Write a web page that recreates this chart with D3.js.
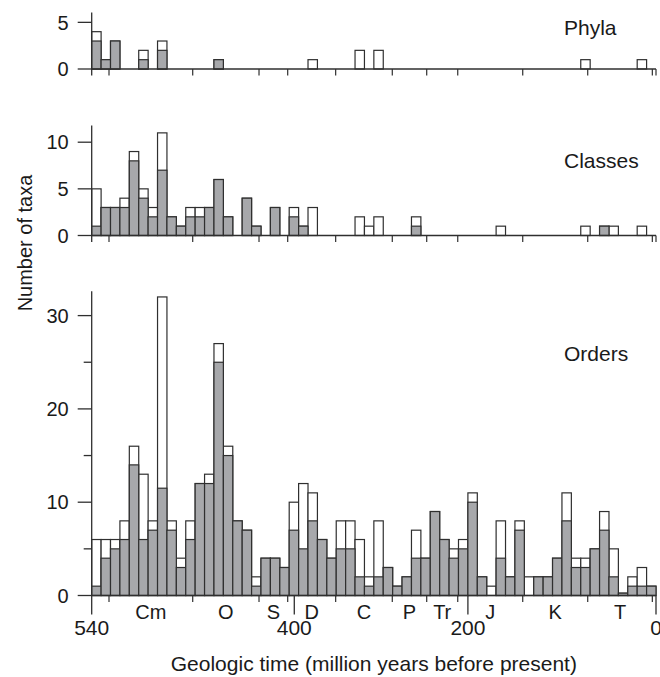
<!DOCTYPE html>
<html>
<head>
<meta charset="utf-8">
<script src="https://cdn.jsdelivr.net/npm/d3@7"></script>
<style>
    body { margin: 0; background: #fff; }
    svg { display: block; }
    text { font-family: "Liberation Sans", Arial, sans-serif; fill: #1a1a1a; }
</style>
</head>
<body>
<div id="chart"></div>
<script>
// 60 equal-width time bins, oldest (540 Ma) on the left
const phylaTotal = [
    4, 1, 3, 0, 0, 2, 0, 3, 0, 0,
    0, 0, 0, 1, 0, 0, 0, 0, 0, 0,
    0, 0, 0, 1, 0, 0, 0, 0, 2, 0,
    2, 0, 0, 0, 0, 0, 0, 0, 0, 0,
    0, 0, 0, 0, 0, 0, 0, 0, 0, 0,
    0, 0, 1, 0, 0, 0, 0, 0, 1, 0
];
const phylaGray = [
    3, 1, 3, 0, 0, 1, 0, 2, 0, 0,
    0, 0, 0, 1, 0, 0, 0, 0, 0, 0,
    0, 0, 0, 0, 0, 0, 0, 0, 0, 0,
    0, 0, 0, 0, 0, 0, 0, 0, 0, 0,
    0, 0, 0, 0, 0, 0, 0, 0, 0, 0,
    0, 0, 0, 0, 0, 0, 0, 0, 0, 0
];
const classTotal = [
    5, 3, 3, 4, 9, 5, 3, 11, 2, 1,
    3, 3, 3, 6, 2, 0, 4, 1, 0, 3,
    0, 3, 1, 3, 0, 0, 0, 0, 2, 1,
    2, 0, 0, 0, 2, 0, 0, 0, 0, 0,
    0, 0, 0, 1, 0, 0, 0, 0, 0, 0,
    0, 0, 1, 0, 1, 1, 0, 0, 1, 0
];
const classGray = [
    1, 3, 3, 3, 8, 4, 2, 7, 2, 1,
    2, 2, 3, 6, 2, 0, 4, 1, 0, 3,
    0, 2, 1, 0, 0, 0, 0, 0, 0, 0,
    0, 0, 0, 0, 1, 0, 0, 0, 0, 0,
    0, 0, 0, 0, 0, 0, 0, 0, 0, 0,
    0, 0, 0, 0, 1, 0, 0, 0, 0, 0
];
const orderTotal = [
    6, 6, 6, 8, 16, 13, 8, 32, 8, 4,
    8, 12, 13, 27, 16, 8, 7, 2, 4, 4,
    3, 10, 12, 11, 6, 4, 8, 8, 6, 2,
    8, 3, 1, 2, 7, 4, 9, 6, 5, 6,
    11, 2, 1, 8, 2, 8, 2, 2, 2, 4,
    11, 4, 4, 5, 9, 5, 0.25, 2, 3, 1
];
const orderGray = [
    1, 4, 5, 6, 14, 6, 7, 11.5, 7, 3,
    6, 12, 12, 25, 15, 8, 7, 1, 4, 4,
    3, 7, 5, 8, 6, 4, 5, 5, 2, 1,
    2, 3, 1, 2, 4, 4, 9, 6, 4, 5,
    10, 2, 0, 4, 2, 7, 0, 2, 2, 4,
    8, 3, 3, 5, 7, 2, 0.25, 1, 1, 1
];

// period boundaries and labels, in bin units
const periodNames = ["Cm", "O", "S", "D", "C", "P", "Tr", "J", "K", "T"];
const periodEdges = [1.84, 10.74, 17.79, 20.84, 25.94, 31.96, 35.62, 38.92, 45.83, 52.74, 59.61];
const timeLabels = ["540", "400", "200", "0"];
const timeTicks = [0, 21.54, 40, 60];

const nBins = orderTotal.length;
const width = 660, height = 677;
const unitPx = 9.33;
const dark = "#2f2f2f";

const svg = d3.select("#chart").append("svg")
    .attr("width", width)
    .attr("height", height);

const x = d3.scaleLinear().domain([0, nBins]).range([91.7, 656]);

const panels = [
    { name: "Phyla", total: phylaTotal, gray: phylaGray, base: 69, max: 6.05, ticks: [0, 5], labelY: 35 },
    { name: "Classes", total: classTotal, gray: classGray, base: 235.5, max: 11.8, ticks: [0, 5, 10], labelY: 168 },
    { name: "Orders", total: orderTotal, gray: orderGray, base: 595.5, max: 32.6, ticks: [0, 5, 10, 15, 20, 25, 30], labelY: 361, last: true }
];

panels.forEach(p => {
    const y = d3.scaleLinear().domain([0, p.max]).range([p.base, p.base - p.max * unitPx]);
    const g = svg.append("g").attr("class", "panel");
    const idx = d3.range(nBins);

    // total bars (white)
    g.append("g").selectAll("rect")
        .data(idx.filter(i => p.total[i] > 0))
        .join("rect")
        .attr("x", i => x(i))
        .attr("y", i => y(p.total[i]))
        .attr("width", i => x(i + 1) - x(i))
        .attr("height", i => y(0) - y(p.total[i]))
        .attr("fill", "#fff")
        .attr("stroke", dark)
        .attr("stroke-width", 1.2);

    // gray part
    g.append("g").selectAll("rect")
        .data(idx.filter(i => p.gray[i] > 0))
        .join("rect")
        .attr("x", i => x(i))
        .attr("y", i => y(p.gray[i]))
        .attr("width", i => x(i + 1) - x(i))
        .attr("height", i => y(0) - y(p.gray[i]))
        .attr("fill", "#a7a8ab")
        .attr("stroke", dark)
        .attr("stroke-width", 1.2);

    // y axis
    const yTickG = g.append("g").selectAll("g")
        .data(p.ticks)
        .join("g")
        .attr("transform", d => `translate(0,${y(d)})`);
    const major = d => p.last ? d % 10 === 0 : true;
    yTickG.append("line")
        .attr("x1", d => x(0) - (major(d) ? 14 : 8))
        .attr("x2", x(0))
        .attr("stroke", dark)
        .attr("stroke-width", 1.3);
    yTickG.filter(major).append("text")
        .attr("x", x(0) - 23)
        .attr("dy", "0.36em")
        .attr("text-anchor", "end")
        .style("font-size", "20px")
        .text(d => d);

    g.append("line")
        .attr("x1", x(0)).attr("x2", x(0))
        .attr("y1", y(p.max))
        .attr("y2", p.base + (p.last ? 19 : 6.5))
        .attr("stroke", dark)
        .attr("stroke-width", 1.3);

    // x axis line + period boundary ticks
    g.append("line")
        .attr("x1", x(0)).attr("x2", x(nBins))
        .attr("y1", p.base).attr("y2", p.base)
        .attr("stroke", dark)
        .attr("stroke-width", 1.3);

    const edges = p.last ? periodEdges : periodEdges.concat([nBins]);
    g.append("g").selectAll("line")
        .data(edges)
        .join("line")
        .attr("x1", d => x(d)).attr("x2", d => x(d))
        .attr("y1", p.base).attr("y2", p.base + 6.5)
        .attr("stroke", dark)
        .attr("stroke-width", 1.2);

    // panel label
    g.append("text")
        .attr("x", 564)
        .attr("y", p.labelY)
        .style("font-size", "21px")
        .text(p.name);

    if (p.last) {
        // long time ticks
        g.append("g").selectAll("line")
            .data(timeTicks.slice(1))
            .join("line")
            .attr("x1", d => x(d)).attr("x2", d => x(d))
            .attr("y1", p.base).attr("y2", p.base + 19)
            .attr("stroke", dark)
            .attr("stroke-width", 1.3);

        g.append("g").selectAll("text")
            .data(timeTicks)
            .join("text")
            .attr("x", d => x(d))
            .attr("y", 635)
            .attr("text-anchor", "middle")
            .style("font-size", "21px")
            .text((d, i) => timeLabels[i]);

        // period names centered between boundaries
        g.append("g").selectAll("text")
            .data(periodNames)
            .join("text")
            .attr("x", (d, i) => x((periodEdges[i] + periodEdges[i + 1]) / 2))
            .attr("y", 619)
            .attr("text-anchor", "middle")
            .style("font-size", "20px")
            .text(d => d);
    }
});

// axis titles
svg.append("text")
    .attr("x", (x(0) + x(nBins)) / 2)
    .attr("y", 671)
    .attr("text-anchor", "middle")
    .style("font-size", "21px")
    .text("Geologic time (million years before present)");

svg.append("text")
    .attr("transform", "translate(32,243) rotate(-90)")
    .attr("text-anchor", "middle")
    .style("font-size", "20px")
    .text("Number of taxa");
</script>
</body>
</html>
